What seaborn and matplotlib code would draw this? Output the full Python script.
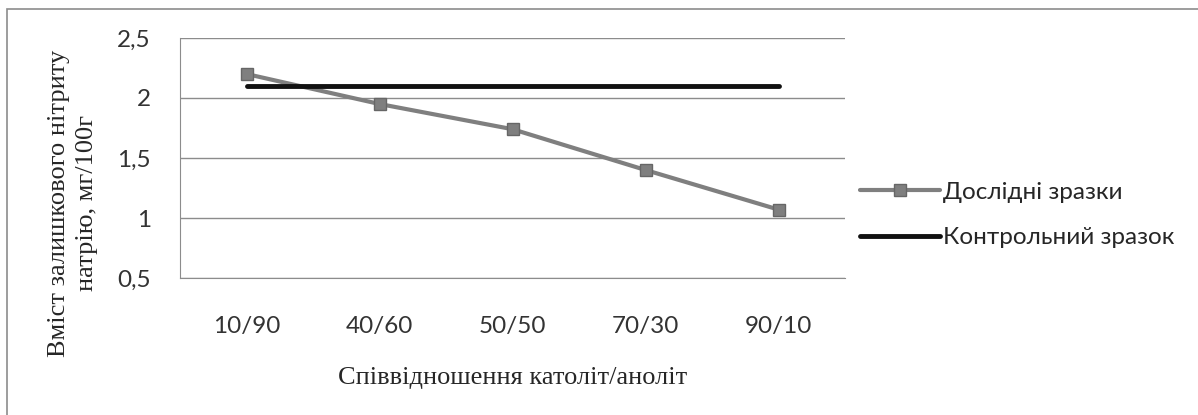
import numpy as np, pandas as pd
import matplotlib; matplotlib.use("Agg")
import matplotlib.pyplot as plt
from matplotlib.ticker import FixedLocator, FuncFormatter
from matplotlib.patches import Rectangle
import seaborn as sns

ratios = ['10/90', '40/60', '50/50', '70/30', '90/10']
samples = [2.2, 1.95, 1.74, 1.4, 1.07]
control = [2.1, 2.1, 2.1, 2.1, 2.1]
yticks = [0.5, 1.0, 1.5, 2.0, 2.5]
lab_exp = 'Дослідні зразки'
lab_ctl = 'Контрольний зразок'

sns.set_style("white")
plt.rcParams['font.family'] = ['Lato', 'DejaVu Sans']

df = pd.DataFrame({'ratio': ratios * 2,
                   'value': samples + control,
                   'series': [lab_exp] * 5 + [lab_ctl] * 5})

fig = plt.figure(figsize=(11.98, 4.15), dpi=100)
ax = fig.add_axes([180 / 1198, 1 - 278 / 415, 665 / 1198, 240 / 415])

sns.lineplot(data=df[df.series == lab_exp], x='ratio', y='value', ax=ax,
             color='#7f7f7f', lw=3, marker='s', markersize=9,
             markeredgecolor='#666666', markeredgewidth=1, label=lab_exp, sort=False)
sns.lineplot(data=df[df.series == lab_ctl], x='ratio', y='value', ax=ax,
             color='#111111', lw=3.5, label=lab_ctl, sort=False)

ax.set_xlim(-0.5, 4.5)
ax.set_ylim(0.5, 2.5)
ax.yaxis.set_major_locator(FixedLocator(yticks))
ax.yaxis.set_major_formatter(FuncFormatter(lambda v, p: f"{v:g}".replace('.', ',')))
ax.grid(axis='y', color='#8c8c8c', lw=1)
ax.set_axisbelow(True)
ax.set_xticks(range(len(ratios)))
ax.set_xticklabels(ratios)
ax.set_xticks(np.arange(-0.5, 5, 1), minor=True)
ax.tick_params(axis='x', which='major', length=0, pad=27, labelsize=17.5, labelcolor='#333333')
ax.tick_params(axis='x', which='minor', length=9, width=1, color='#8c8c8c', direction='out')
ax.tick_params(axis='y', length=9, width=1, color='#8c8c8c', direction='out', pad=12,
               labelsize=17.5, labelcolor='#333333')
for s in ['top', 'right']:
    ax.spines[s].set_visible(False)
ax.spines['left'].set_color('#8c8c8c')
ax.spines['bottom'].set_color('#8c8c8c')

ax.set_xlabel('Співвідношення католіт/аноліт', family='Liberation Serif', fontsize=19, labelpad=22)
ax.set_ylabel('')
fig.text(73 / 1198, 1 - 203 / 415, 'Вміст залишкового нітриту\nнатрію, мг/100г',
         family='Liberation Serif', fontsize=19, rotation=90, ha='center', va='center',
         linespacing=1.35)

ax.legend(loc='center left', bbox_to_anchor=(838 / 1198, 1 - 215 / 415),
          bbox_transform=fig.transFigure, frameon=False, fontsize=17.5,
          handlelength=3.3, handletextpad=0.1, labelspacing=1.0)

fig.patches.append(Rectangle((7 / 1198, -0.1), 1.2, 1 - 9 / 415 + 0.1, transform=fig.transFigure,
                             fill=False, edgecolor='#8c8c8c', lw=1.2))
fig.savefig('out.png', dpi=100)
